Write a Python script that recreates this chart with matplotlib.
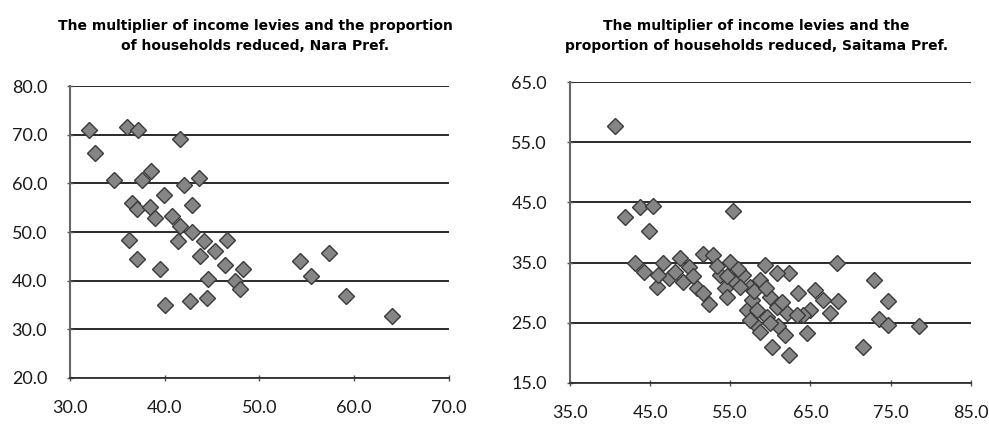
import matplotlib
matplotlib.use("Agg")
import matplotlib.pyplot as plt

# Nara Pref. (x: multiplier, y: proportion reduced)
nara_x = [32.0, 32.6, 36.0, 37.2, 41.6, 38.6, 34.7, 37.6, 43.6, 42.0,
          39.9, 36.6, 37.1, 38.5, 42.9, 39.0, 40.8, 41.6, 42.9, 36.2,
          41.4, 44.2, 46.6, 45.3, 43.7, 37.1, 46.4, 39.5, 48.3, 44.6,
          47.4, 48.0, 44.5, 42.7, 40.0, 54.3, 57.4, 55.5, 59.2, 64.0]
nara_y = [71.0, 66.2, 71.6, 71.0, 69.1, 62.5, 60.6, 60.6, 61.2, 59.7,
          57.6, 56.0, 54.8, 55.2, 55.5, 52.9, 53.2, 51.2, 50.1, 48.4,
          48.1, 48.1, 48.4, 46.0, 45.0, 44.5, 43.3, 42.4, 42.3, 40.3,
          39.9, 38.2, 36.4, 35.9, 35.0, 44.1, 45.6, 41.0, 36.9, 32.8]

# Saitama Pref.
sai_x = [40.6, 41.9, 43.7, 45.4, 44.8, 55.4,
         43.1, 44.2, 45.8, 46.6, 48.7, 47.3, 49.1, 48.1, 50.8, 51.6, 52.9,
         52.3, 51.6, 53.7, 55.0, 54.4, 55.4, 56.6, 57.5, 57.1, 57.9,
         59.3, 62.3, 60.8, 68.3, 72.9, 74.7, 68.5, 63.5, 65.6, 66.6, 67.5,
         65.0, 64.1, 73.5, 74.7, 78.5, 71.6, 64.6, 61.8, 60.2, 62.3, 58.7,
         54.6, 54.6, 56.2, 57.7, 58.7, 58.3, 60.0, 60.8, 59.6, 62.1, 57.5,
         61.0, 63.3, 49.8, 50.3, 53.3, 56.0, 58.0, 59.5, 61.5, 60.0, 46.0]
sai_y = [57.7, 42.6, 44.2, 44.4, 40.3, 43.5,
         34.9, 33.5, 30.9, 34.9, 35.7, 32.4, 31.8, 33.5, 30.7, 36.5, 36.3,
         28.2, 29.9, 32.9, 35.1, 30.7, 32.1, 32.9, 31.0, 27.1, 24.9,
         34.6, 33.3, 33.2, 34.9, 32.1, 28.6, 28.6, 29.9, 30.4, 28.8, 26.6,
         27.1, 26.3, 25.7, 24.6, 24.4, 21.0, 23.3, 23.0, 21.0, 19.6, 23.5,
         32.7, 29.3, 31.0, 28.8, 32.1, 27.1, 29.3, 27.7, 26.0, 26.6, 25.5,
         24.4, 26.3, 34.2, 32.8, 34.5, 34.0, 30.2, 30.8, 28.5, 25.0, 33.0]

nara_xticks = [30, 40, 50, 60, 70]
nara_yticks = [20, 30, 40, 50, 60, 70, 80]
sai_xticks = [35, 45, 55, 65, 75, 85]
sai_yticks = [15, 25, 35, 45, 55, 65]

title_nara = "The multiplier of income levies and the proportion\nof households reduced, Nara Pref."
title_sai = "The multiplier of income levies and the\nproportion of households reduced, Saitama Pref."

fig = plt.figure(figsize=(9.89, 4.24), dpi=100)


def setup(ax, xs, ys, xticks, yticks):
    ax.plot(xs, ys, linestyle="none", marker="D", markersize=8.5,
            markerfacecolor="#858585", markeredgecolor="#3a3a3a",
            markeredgewidth=1.0, zorder=3)
    ax.set_xlim(xticks[0], xticks[-1])
    ax.set_ylim(yticks[0], yticks[-1])
    ax.set_xticks(xticks)
    ax.set_yticks(yticks)
    ax.set_xticklabels(["%.1f" % v for v in xticks])
    ax.set_yticklabels(["%.1f" % v for v in yticks])
    ax.yaxis.grid(True, color="#2a2a2a", linewidth=1.4)
    ax.set_axisbelow(True)
    for s in ["top", "right"]:
        ax.spines[s].set_visible(False)
    ax.spines["left"].set_color("#666666")
    ax.spines["left"].set_linewidth(1.5)
    ax.spines["bottom"].set_color("#333333")
    ax.spines["bottom"].set_linewidth(1.3)
    ax.tick_params(direction="inout", length=5, width=1, color="#555555",
                   labelsize=13, labelcolor="#1a1a1a")
    ax.tick_params(axis="x", pad=13)
    ax.tick_params(axis="y", pad=14)
    for lab in ax.get_xticklabels() + ax.get_yticklabels():
        lab.set_family("Lato")


ax1 = fig.add_axes([0.0708, 0.1085, 0.3827, 0.6885])
setup(ax1, nara_x, nara_y, nara_xticks, nara_yticks)

ax2 = fig.add_axes([0.5763, 0.0967, 0.4052, 0.7099])
setup(ax2, sai_x, sai_y, sai_xticks, sai_yticks)

fig.text(0.258, 0.915, title_nara, ha="center", va="center", fontsize=10,
         fontweight="bold", linespacing=1.6)
fig.text(0.765, 0.915, title_sai, ha="center", va="center", fontsize=10,
         fontweight="bold", linespacing=1.6)

fig.savefig("out.png", dpi=100, facecolor="white")
